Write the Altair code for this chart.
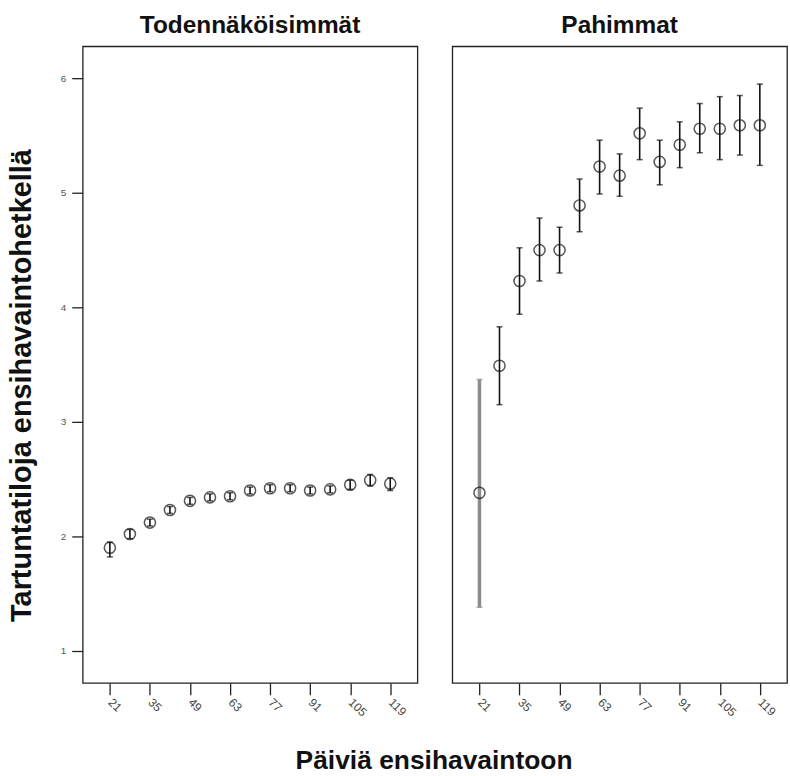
import altair as alt
import pandas as pd

# Days until first observation (x positions of the measurement points)
days = [21, 28, 35, 42, 49, 56, 63, 70, 77, 84, 91, 98, 105, 112, 119]
tick_days = [21, 35, 49, 63, 77, 91, 105, 119]

# "Todennäköisimmät": mean with lower / upper interval limits
likely_mean = [1.90, 2.02, 2.12, 2.23, 2.31, 2.34, 2.35, 2.40, 2.42, 2.42, 2.40, 2.41, 2.45, 2.49, 2.46]
likely_lo = [1.82, 1.98, 2.09, 2.20, 2.28, 2.31, 2.32, 2.37, 2.39, 2.39, 2.37, 2.38, 2.41, 2.44, 2.40]
likely_hi = [1.95, 2.06, 2.15, 2.26, 2.34, 2.37, 2.38, 2.43, 2.45, 2.45, 2.43, 2.44, 2.49, 2.54, 2.51]

# "Pahimmat": mean with lower / upper interval limits
worst_mean = [2.38, 3.49, 4.23, 4.50, 4.50, 4.89, 5.23, 5.15, 5.52, 5.27, 5.42, 5.56, 5.56, 5.59, 5.59]
worst_lo = [1.38, 3.15, 3.94, 4.23, 4.30, 4.66, 4.99, 4.97, 5.29, 5.07, 5.22, 5.35, 5.29, 5.33, 5.24]
worst_hi = [3.37, 3.83, 4.52, 4.78, 4.70, 5.12, 5.46, 5.34, 5.74, 5.46, 5.62, 5.78, 5.84, 5.85, 5.95]
# interval based on very few observations (drawn in grey)
worst_sparse = [True] + [False] * 14

FONT = "Liberation Sans"
PANEL_W, PANEL_H = 336, 639


def frame(mean, lo, hi, sparse):
    return pd.DataFrame({"day": days, "mean": mean, "lo": lo, "hi": hi, "sparse": sparse})


x_scale = alt.Scale(domain=[11.5, 128.5], nice=False, zero=False)
y_scale = alt.Scale(domain=[0.72, 6.28], nice=False, zero=False)

x_axis = alt.Axis(
    values=tick_days, title=None, labelAngle=45, labelAlign="left", labelBaseline="middle",
    labelFontSize=12, labelColor="#444", labelFont=FONT, labelPadding=5,
    tickSize=12, tickColor="#222", tickWidth=1.3, domain=False, grid=False,
)


def panel(df, title, show_y):
    y_axis = alt.Axis(
        values=[1, 2, 3, 4, 5, 6], format="d", title="Tartuntatiloja ensihavaintohetkellä",
        titleFontSize=29, titleFontWeight="bold", titleFont=FONT, titleColor="#111",
        titlePadding=24, titleY=340,
        labelFontSize=10, labelColor="#555", labelFont=FONT, labelPadding=6,
        tickSize=11, tickColor="#222", tickWidth=1.3, domain=False, grid=False,
    ) if show_y else None

    base = alt.Chart(df).encode(x=alt.X("day:Q", scale=x_scale, axis=x_axis))
    tone = alt.condition(alt.datum.sparse, alt.value("#8c8c8c"), alt.value("#111"))
    width = alt.condition(alt.datum.sparse, alt.value(3.5), alt.value(1.6))

    bars = base.mark_rule().encode(
        y=alt.Y("lo:Q", scale=y_scale, axis=y_axis), y2="hi:Q", color=tone, strokeWidth=width
    )
    cap_lo = base.mark_tick(orient="horizontal", size=6, thickness=1.5).encode(
        y=alt.Y("lo:Q", scale=y_scale), color=tone
    )
    cap_hi = base.mark_tick(orient="horizontal", size=6, thickness=1.5).encode(
        y=alt.Y("hi:Q", scale=y_scale), color=tone
    )
    dots = base.mark_point(shape="circle", size=125, filled=False, strokeWidth=1.5, color="#111").encode(
        y=alt.Y("mean:Q", scale=y_scale)
    )
    return alt.layer(bars, cap_lo, cap_hi, dots).properties(
        width=PANEL_W, height=PANEL_H,
        title=alt.TitleParams(title, fontSize=24.5, fontWeight="bold", font=FONT, color="#111", offset=8),
    )


left = panel(frame(likely_mean, likely_lo, likely_hi, [False] * 15), "Todennäköisimmät", True)
right = panel(frame(worst_mean, worst_lo, worst_hi, worst_sparse), "Pahimmat", False)

chart = alt.hconcat(left, right, spacing=33).properties(
    title=alt.TitleParams(
        "Päiviä ensihavaintoon", orient="bottom", anchor="middle", fontSize=26.5,
        fontWeight="bold", font=FONT, color="#111", offset=29, dx=37,
    ),
    padding={"left": 6, "top": 10, "right": 2, "bottom": 0},
    background="white",
).configure_view(stroke="#222", strokeWidth=1.3)

chart.save("out.html", embed_options={"renderer": "svg", "actions": False})
